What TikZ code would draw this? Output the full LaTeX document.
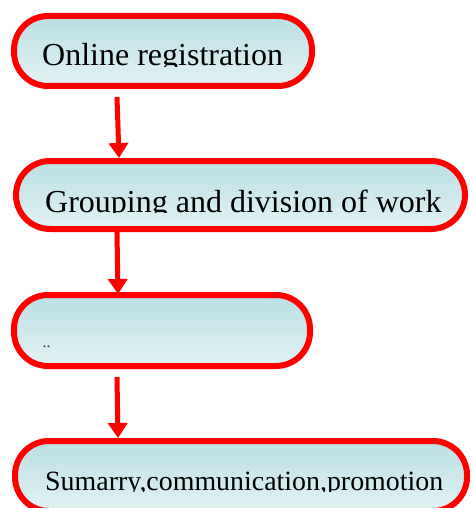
\documentclass[tikz,border=0pt]{standalone}
\usepackage{fontspec}
\setmainfont{Liberation Serif}
\usetikzlibrary{arrows.meta}
\definecolor{boxtop}{RGB}{186,223,227}
\definecolor{boxbottom}{RGB}{226,242,243}
\definecolor{edgered}{RGB}{255,0,0}
\tikzset{
  stagebox/.style={draw=edgered, line width=6pt, rectangle, rounded corners=34pt,
    top color=boxtop, bottom color=boxbottom, inner sep=0pt},
  stagetext/.style={anchor=base west, inner sep=0pt, font=\fontsize{32}{36}\selectfont},
  flowarrow/.style={draw=edgered, line width=5pt,
    -{Triangle[width=19pt,length=15pt]}}
}
\begin{document}
\begin{tikzpicture}[x=1pt,y=-1pt]
  \useasboundingbox (0,0) rectangle (472,508);
  \clip (0,0) rectangle (472,508);

  % stage boxes
  \node[stagebox, minimum width=298pt, minimum height=70pt] (reg) at (163,51) {};
  \node[stagebox, minimum width=449pt, minimum height=68pt] (group) at (240.5,195) {};
  \node[stagebox, minimum width=296pt, minimum height=71pt] (blank) at (162,330.5) {};
  \node[stagebox, minimum width=452pt, minimum height=70pt] (summary) at (241,476) {};

  % labels, cut off just under the baseline
  \begin{scope}
    \clip (20,20) rectangle (310,66.5);
    \node[stagetext] (regtext) at (42,66) {Online registration};
  \end{scope}
  \begin{scope}
    \clip (20,165) rectangle (462,212.7);
    \node[stagetext] (grouptext) at (45,212) {Grouping and division of work};
  \end{scope}
  \node[anchor=base west, inner sep=0pt, text=black!80, font=\fontsize{16}{18}\selectfont] (blanktext) at (42.5,347.5) {..};
  \begin{scope}
    \clip (20,445) rectangle (464,491.7);
    \node[stagetext, font=\fontsize{27.9}{32}\selectfont] (summarytext) at (45,490) {Sumarry,communication,promotion};
  \end{scope}

  % connectors
  \coordinate (a1s) at (117,97);
  \coordinate (a1e) at (119,158);
  \coordinate (a2s) at (117,232);
  \coordinate (a2e) at (118,294);
  \coordinate (a3s) at (117,377);
  \coordinate (a3e) at (118,438);
  \draw[flowarrow] (a1s) -- (a1e);
  \draw[flowarrow] (a2s) -- (a2e);
  \draw[flowarrow] (a3s) -- (a3e);
\end{tikzpicture}
\end{document}
